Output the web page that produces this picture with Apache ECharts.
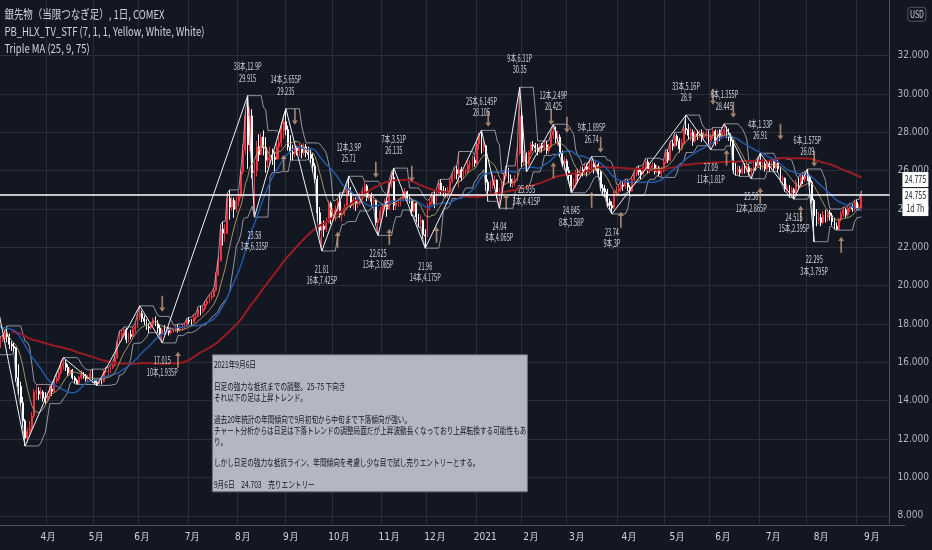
<!DOCTYPE html>
<html lang="ja">
<head>
<meta charset="UTF-8">
<title>銀先物 日足</title>
<style>
    html, body { margin: 0; padding: 0; background: #131722; overflow: hidden; width: 932px; height: 550px; }
    /* 価格軸 6〜36 を画面外まで伸ばして TradingView と同じ縮尺にする */
    #main { position: absolute; left: -3.4px; top: -20.8px; width: 935.4px; height: 576px; }
</style>
</head>
<body>
<div id="main"></div>
<script src="https://cdn.jsdelivr.net/npm/echarts/dist/echarts.min.js"></script>
<script>
// 日足データ 2020-03-02 〜 2021-09-03  [始値, 終値, 安値, 高値]
var startDate = [2020, 2, 2];
var holidays = ['2020-04-10', '2020-05-25', '2020-07-03', '2020-09-07', '2020-11-26', '2020-12-25',
    '2021-01-01', '2021-04-02', '2021-05-31', '2021-07-05'];
var padBars = 12;

var bars = [
    // 2020/3
    [16.45,16.85,16.40,17.00],[16.85,17.20,16.75,17.35],[17.20,17.25,17.05,17.40],[17.25,17.55,17.15,17.65],[17.55,17.35,17.05,17.90],
    [17.35,16.95,16.70,17.50],[16.95,16.85,16.60,17.10],[16.85,16.75,16.55,17.05],[16.75,15.20,15.00,16.80],[15.20,14.75,14.30,15.90],
    [14.75,13.90,13.70,15.00],[13.90,12.95,12.60,14.20],[12.95,12.05,11.64,13.05],[12.05,12.40,11.80,12.60],[12.40,12.55,12.10,12.95],
    [12.55,13.20,12.35,13.40],[13.20,14.45,13.10,14.60],[14.45,14.50,14.05,14.85],[14.50,14.35,14.05,14.70],[14.35,14.45,14.10,14.70],
    [14.45,14.15,13.95,14.55],[14.15,14.00,13.85,14.45],[14.00,14.25,13.90,14.40],[14.25,14.60,14.10,14.80],[14.60,14.50,14.25,14.75],
    // 4
    [14.50,15.05,14.45,15.15],[15.05,15.15,14.90,15.45],[15.15,15.45,15.00,15.60],[15.45,15.85,15.35,16.05],
    [15.85,15.95,15.60,16.25],[15.95,15.75,15.55,16.15],[15.75,15.45,15.30,15.90],[15.45,15.60,15.30,15.75],[15.60,15.20,15.10,15.65],
    [15.20,15.05,14.90,15.30],[15.05,14.90,14.85,15.15],[14.90,15.20,14.85,15.30],[15.20,15.35,15.10,15.60],[15.35,15.30,15.15,15.50],
    [15.30,15.15,15.00,15.40],[15.15,15.20,15.00,15.35],[15.20,15.45,15.10,15.60],[15.45,15.05,14.95,15.65],[15.05,14.95,14.85,15.15],
    // 5
    [14.95,14.90,14.80,15.10],[14.90,15.05,14.85,15.20],[15.05,15.00,14.85,15.15],[15.00,15.55,14.95,15.65],[15.55,15.55,15.40,15.75],
    [15.55,15.55,15.35,15.75],[15.55,15.75,15.45,15.85],[15.75,15.85,15.65,16.00],[15.85,16.25,15.80,16.40],[16.25,17.05,16.20,17.15],
    [17.05,17.35,16.95,17.65],[17.35,17.50,17.10,17.70],[17.50,17.70,17.40,17.85],[17.70,17.20,17.00,17.80],[17.20,17.45,17.05,17.55],
    [17.45,17.35,17.20,17.70],[17.35,17.75,17.30,17.85],[17.75,17.85,17.55,18.05],[17.85,18.40,17.80,18.55],
    // 6
    [18.40,18.55,18.20,18.95],[18.55,18.30,18.10,18.70],[18.30,18.15,17.95,18.45],[18.15,17.85,17.70,18.25],[17.85,17.80,17.55,18.05],
    [17.80,17.95,17.70,18.05],[17.95,18.25,17.85,18.35],[18.25,18.05,17.90,18.40],[18.05,17.80,17.55,18.20],[17.80,17.50,17.35,17.95],
    [17.50,17.70,17.015,17.80],[17.70,17.60,17.45,17.95],[17.60,17.75,17.50,17.85],[17.75,17.55,17.40,17.85],[17.55,17.65,17.45,17.85],
    [17.65,17.70,17.55,17.80],[17.70,17.80,17.60,17.95],[17.80,17.70,17.55,18.00],[17.70,17.75,17.60,17.90],[17.75,17.85,17.65,18.00],
    [17.85,17.90,17.75,18.05],[17.90,18.20,17.85,18.30],[18.20,18.15,18.00,18.35],[18.15,18.10,17.95,18.25],
    // 7
    [18.10,18.35,18.05,18.50],[18.35,18.40,18.20,18.55],[18.40,18.75,18.35,18.90],[18.75,18.65,18.45,18.95],[18.65,18.80,18.55,18.95],
    [18.80,19.05,18.70,19.20],[19.05,19.20,18.95,19.35],[19.20,19.40,19.10,19.55],[19.40,19.45,19.25,19.65],[19.45,19.75,19.40,19.90],
    [19.75,20.55,19.70,20.70],[20.55,21.30,20.50,21.55],[21.30,22.95,21.25,23.20],[22.95,22.75,22.10,23.35],[22.75,22.75,22.30,23.20],
    [22.75,24.55,22.70,24.85],[24.55,24.10,23.45,25.00],[24.10,24.45,23.90,24.70],[24.45,24.00,23.55,24.60],[24.00,24.40,23.85,24.65],
    // 8
    [24.40,24.65,24.15,24.95],[24.65,25.95,24.55,26.10],[25.95,27.05,25.80,27.40],[27.05,28.85,26.85,29.10],[28.85,27.35,26.10,29.915],
    [27.35,28.85,27.00,29.30],[28.85,25.90,25.60,29.20],[25.90,26.00,23.58,26.45],[26.00,27.25,25.70,27.55],[27.25,26.85,26.50,27.90],
    [26.85,27.75,26.80,27.95],[27.75,27.20,26.80,28.10],[27.20,26.55,25.90,27.75],[26.55,26.70,26.15,27.10],[26.70,26.80,26.35,27.25],
    [26.80,26.70,26.30,27.15],[26.70,26.60,25.95,27.00],[26.60,27.25,26.55,27.45],[27.25,27.45,26.60,27.95],[27.45,28.10,27.20,28.35],
    [28.10,28.55,27.65,28.90],[28.55,28.15,27.85,29.235],[28.15,27.25,27.05,28.35],[27.25,26.95,26.55,27.85],[26.95,26.90,26.55,27.35],
    // 9
    [26.90,27.20,26.70,27.40],[27.20,27.05,26.80,27.30],[27.05,27.20,26.75,27.40],[27.20,26.95,26.65,27.35],
    [26.95,27.25,26.80,27.45],[27.25,26.95,26.70,27.40],[26.95,26.85,26.60,27.25],[26.85,26.65,26.40,27.10],[26.65,26.25,25.90,26.90],
    [26.25,25.55,25.35,26.40],[25.55,23.80,23.35,25.75],[23.80,22.90,22.60,24.10],[22.90,23.10,21.81,23.35],[23.10,22.95,22.55,23.40],
    [22.95,23.35,22.80,23.55],[23.35,24.30,23.25,24.45],[24.30,23.55,23.20,24.40],[23.55,23.75,23.30,24.05],[23.75,23.95,23.35,24.20],
    // 10
    [23.95,24.40,23.85,24.55],[24.40,23.70,23.55,24.85],[23.70,23.75,23.35,23.95],[23.75,24.05,23.65,24.25],[24.05,25.05,23.95,25.20],
    [25.05,24.90,24.70,25.71],[24.90,24.20,24.05,25.15],[24.20,24.45,24.00,24.65],[24.45,24.30,23.90,24.60],[24.30,24.30,24.05,24.65],
    [24.30,24.60,24.20,24.85],[24.60,24.95,24.45,25.15],[24.95,25.20,24.80,25.45],[25.20,24.60,24.40,25.30],[24.60,24.70,24.45,24.95],
    [24.70,24.40,24.10,24.85],[24.40,24.45,24.15,24.70],[24.45,23.30,23.15,24.50],[23.30,23.45,22.625,23.55],[23.45,23.90,23.20,24.10],
    // 11
    [23.90,24.15,23.70,24.30],[24.15,24.40,23.95,24.55],[24.40,24.00,23.60,24.60],[24.00,25.40,23.95,25.50],[25.40,25.65,25.10,25.95],
    [25.65,24.20,23.95,26.135],[24.20,24.30,23.95,24.55],[24.30,24.30,24.10,24.55],[24.30,24.50,24.15,24.65],[24.50,24.80,24.40,24.95],
    [24.80,24.90,24.55,25.10],[24.90,24.60,24.40,24.95],[24.60,24.50,24.30,24.75],[24.50,23.90,23.65,24.55],[23.90,24.30,23.80,24.45],
    [24.30,23.60,23.30,24.35],[23.60,23.30,23.05,23.75],[23.30,23.40,23.05,23.70],[23.40,22.65,22.45,23.45],
    // 12
    [22.65,22.60,21.96,22.95],[22.60,24.20,22.55,24.30],[24.20,24.35,23.90,24.55],[24.35,24.70,24.25,24.85],[24.70,24.25,24.05,24.90],
    [24.25,24.85,24.20,25.05],[24.85,25.35,24.75,25.50],[25.35,24.95,24.75,25.55],[24.95,24.90,24.65,25.20],[24.90,24.85,24.60,25.10],
    [24.85,24.95,24.55,25.15],[24.95,25.45,24.90,25.60],[25.45,25.70,25.35,25.90],[25.70,26.05,25.55,26.20],[26.05,25.85,25.55,26.25],
    [25.85,26.05,25.10,27.00],[26.05,25.65,25.45,26.20],[25.65,25.95,25.55,26.05],[25.95,25.95,25.80,26.10],
    [25.95,26.30,25.85,26.60],[26.30,26.30,26.05,26.55],[26.30,26.55,26.15,26.80],[26.55,26.40,26.20,26.75],
    // 2021/1
    [26.40,27.40,26.30,27.65],[27.40,27.80,27.10,27.95],[27.80,27.25,26.90,28.105],[27.25,27.30,27.00,27.55],[27.30,25.40,24.95,27.35],
    [25.40,24.95,24.40,25.55],[24.95,25.25,24.85,25.50],[25.25,25.45,25.05,25.85],[25.45,25.50,25.20,25.75],[25.50,24.80,24.55,25.55],
    [24.80,25.00,24.04,25.10],[25.00,25.30,24.90,25.45],[25.30,25.70,25.20,25.85],[25.70,26.05,25.55,26.25],[26.05,25.55,25.35,26.15],
    [25.55,25.35,25.15,25.80],[25.35,25.40,25.10,25.60],[25.40,25.50,25.20,25.75],[25.50,26.90,25.45,27.30],[26.90,28.85,26.80,30.35],
    // 2
    [28.85,26.45,26.20,29.10],[26.45,26.80,26.30,27.05],[26.80,26.35,25.935,26.95],[26.35,26.95,26.25,27.05],[26.95,27.35,26.85,27.50],
    [27.35,27.30,27.05,27.55],[27.30,27.20,26.95,27.45],[27.20,27.00,26.80,27.40],[27.00,27.30,26.90,27.45],[27.30,27.20,26.95,27.45],
    [27.20,27.35,27.05,27.55],[27.35,27.05,26.85,27.55],[27.05,27.25,26.90,27.40],[27.25,27.85,27.15,28.05],[27.85,28.05,27.65,28.425],
    [28.05,27.70,27.45,28.30],[27.70,27.75,27.30,28.10],[27.75,26.90,26.70,27.90],[26.90,26.40,26.20,27.05],[26.40,26.50,26.05,26.75],
    // 3
    [26.50,26.00,25.75,26.60],[26.00,25.75,25.40,26.20],[25.75,25.20,24.845,25.85],[25.20,25.25,24.95,25.60],[25.25,25.90,25.10,26.05],
    [25.90,25.75,25.35,26.10],[25.75,26.05,25.60,26.25],[26.05,25.95,25.70,26.20],[25.95,26.20,25.80,26.40],[26.20,25.95,25.70,26.35],
    [25.95,26.25,25.85,26.45],[26.25,26.30,25.95,26.74],[26.30,26.15,25.85,26.45],[26.15,26.30,25.95,26.55],[26.30,25.95,25.75,26.40],
    [25.95,25.10,24.95,26.05],[25.10,25.05,24.70,25.30],[25.05,24.90,24.60,25.25],[24.90,24.40,24.10,25.05],[24.40,24.20,23.95,24.55],
    [24.20,24.05,23.74,24.40],[24.05,24.85,24.00,24.95],[24.85,24.95,24.65,25.20],[24.95,25.05,24.75,25.25],
    // 4
    [25.05,25.25,24.90,25.45],[25.25,25.20,24.95,25.40],[25.20,25.40,25.05,25.55],[25.40,25.15,24.95,25.50],[25.15,24.95,24.70,25.25],
    [24.95,25.55,24.90,25.70],[25.55,25.85,25.45,26.00],[25.85,26.05,25.70,26.20],[26.05,25.95,25.75,26.25],[25.95,25.85,25.55,26.10],
    [25.85,26.20,25.75,26.35],[26.20,26.45,26.05,26.65],[26.45,26.05,25.85,26.60],[26.05,26.15,25.85,26.35],[26.15,26.30,25.95,26.45],
    [26.30,25.95,25.80,26.40],[25.95,26.15,25.85,26.30],[26.15,25.85,25.70,26.25],[25.85,26.00,25.65,26.20],[26.00,26.45,25.90,26.55],
    // 5
    [26.45,26.95,26.35,27.10],[26.95,26.55,26.40,27.10],[26.55,27.40,26.50,27.55],[27.40,27.30,27.05,27.60],[27.30,27.80,27.20,28.00],
    [27.80,27.55,27.30,27.90],[27.55,27.15,26.95,27.70],[27.15,27.45,27.05,27.65],[27.45,28.20,27.35,28.35],[28.20,28.15,27.90,28.90],
    [28.15,27.85,27.60,28.45],[27.85,28.00,27.55,28.25],[28.00,27.55,27.30,28.15],[27.55,27.90,27.45,28.10],[27.90,27.85,27.60,28.10],
    [27.85,27.95,27.70,28.15],[27.95,27.75,27.50,28.15],[27.75,27.85,27.55,28.05],[27.85,27.95,27.65,28.15],[27.95,27.55,27.35,28.10],
    // 6
    [27.55,27.80,27.09,27.95],[27.80,28.05,27.65,28.25],[28.05,27.55,27.30,28.15],[27.55,27.95,27.40,28.10],
    [27.95,27.80,27.55,28.15],[27.80,28.00,27.65,28.15],[28.00,28.15,27.80,28.445],[28.15,27.95,27.70,28.30],[27.95,27.75,27.55,28.20],
    [27.75,27.55,27.30,27.95],[27.55,26.05,25.85,27.65],[26.05,25.95,25.75,26.40],[25.95,26.05,25.75,26.25],[26.05,25.90,25.70,26.25],
    [25.90,26.15,25.80,26.35],[26.15,26.05,25.85,26.40],[26.05,26.20,25.90,26.40],[26.20,25.95,25.75,26.35],[25.95,26.05,25.58,26.15],
    [26.05,26.35,25.95,26.50],[26.35,26.25,26.00,26.55],[26.25,26.55,26.15,26.70],[26.55,26.30,26.05,26.91],[26.30,26.35,26.05,26.60],
    // 7
    [26.35,26.10,25.95,26.55],[26.10,26.35,26.00,26.55],[26.35,26.20,25.95,26.50],[26.20,26.45,26.05,26.65],
    [26.45,26.15,26.00,26.60],[26.15,26.40,26.05,26.60],[26.40,26.10,25.90,26.55],[26.10,25.55,25.40,26.20],[25.55,25.60,25.20,25.75],
    [25.60,25.05,24.90,25.65],[25.05,25.15,24.85,25.30],[25.15,24.85,24.60,25.25],[24.85,25.00,24.60,25.15],[25.00,24.85,24.515,25.10],
    [24.85,25.40,24.75,25.55],[25.40,25.20,25.00,25.65],[25.20,25.65,25.10,25.85],[25.65,25.55,25.30,25.90],[25.55,25.75,25.40,25.95],
    // 8
    [25.75,25.65,25.45,26.09],[25.65,25.40,25.20,25.80],[25.40,24.45,24.30,25.50],[24.45,23.65,22.295,24.55],[23.65,23.45,23.10,24.00],
    [23.45,23.55,23.20,23.85],[23.55,23.30,23.10,23.75],[23.30,23.70,23.20,23.90],[23.70,23.55,23.30,23.95],[23.55,23.80,23.35,24.00],
    [23.80,23.65,23.40,23.95],[23.65,23.35,23.15,23.80],[23.35,23.10,22.95,23.55],[23.10,22.95,22.90,23.30],[22.95,23.45,22.90,23.55],
    [23.45,23.75,23.35,23.90],[23.75,23.95,23.60,24.10],[23.95,23.70,23.55,24.05],[23.70,24.05,23.60,24.20],[24.05,24.10,23.85,24.30],
    [24.10,24.00,23.85,24.25],[24.00,24.35,23.90,24.45],[24.35,24.05,23.95,24.50],[24.05,24.10,23.90,24.25],[24.10,24.755,24.00,24.95]
];

// 表示開始前の終値（移動平均の助走分、2019/11下旬〜2020/2）
var warmupCloses = [
    16.90,16.97,17.03,17.05,17.05, 16.93,17.10,17.15,16.90,16.55, 16.63,16.64,16.88,16.88,17.05,
    17.00,17.10,17.15,17.24,17.20, 17.35,17.70,17.95,17.98, 17.90,17.93,18.05,18.12,
    18.35,18.45,17.95,17.85,18.05, 17.85,17.75,17.95,17.85,18.05, 18.05,17.80,17.75,17.95,18.00,
    18.05,17.55,17.65,17.55,18.05, 17.70,17.75,17.60,17.85,17.85, 17.70,17.75,17.60,17.55,17.70,
    17.85,17.95,18.30,18.50,18.55, 18.55,18.80,18.45,17.85,16.45
];

// ジグザグの転換点 [バー番号, 価格]
var zigzag = [[0,18.8],[12,11.64],[29,16.25],[44,14.8],[63,18.95],[73,17.015],[111,29.915],[114,23.58],[128,29.235],
    [144,21.81],[156,25.71],[169,22.625],[176,26.135],[190,21.96],[215,28.105],[223,24.04],[232,30.35],[235,25.935],
    [247,28.425],[255,24.845],[264,26.74],[273,23.74],[306,28.9],[317,27.09],[323,28.445],[335,25.58],[339,26.91],
    [354,24.515],[360,26.09],[363,22.295]];

// 転換点のラベル [バー番号, 価格, 1行目, 2行目, 高値H/安値L]
var pivotLabels = [
    [73, 17.015, '17.015', '10本,1.935P', 'L'],
    [111, 29.915, '38本,12.9P', '29.915', 'H'],
    [114, 23.58, '23.58', '3本,6.335P', 'L'],
    [128, 29.235, '14本,5.655P', '29.235', 'H'],
    [144, 21.81, '21.81', '16本,7.425P', 'L'],
    [156, 25.71, '12本,3.9P', '25.71', 'H'],
    [169, 22.625, '22.625', '13本,3.085P', 'L'],
    [176, 26.135, '7本,3.51P', '26.135', 'H'],
    [190, 21.96, '21.96', '14本,4.175P', 'L'],
    [215, 28.105, '25本,6.145P', '28.105', 'H'],
    [223, 24.04, '24.04', '8本,4.065P', 'L'],
    [232, 30.35, '9本,6.31P', '30.35', 'H'],
    [235, 25.935, '25.935', '3本,4.415P', 'L'],
    [247, 28.425, '12本,2.49P', '28.425', 'H'],
    [255, 24.845, '24.845', '8本,3.58P', 'L'],
    [264, 26.74, '9本,1.895P', '26.74', 'H'],
    [273, 23.74, '23.74', '9本,3P', 'L'],
    [306, 28.9, '33本,5.16P', '28.9', 'H'],
    [317, 27.09, '27.09', '11本,1.81P', 'L'],
    [323, 28.445, '6本,1.355P', '28.445', 'H'],
    [335, 25.58, '25.58', '12本,2.865P', 'L'],
    [339, 26.91, '4本,1.33P', '26.91', 'H'],
    [354, 24.515, '24.515', '15本,2.395P', 'L'],
    [360, 26.09, '6本,1.575P', '26.09', 'H'],
    [363, 22.295, '22.295', '3本,3.795P', 'L']
];

// シグナル矢印 [バー番号, 価格]
var downArrows = [[73,19.06],[132,28.81],[168,26.05],[184,25.84],[218,28.71],[246,28.8],[253,28.4],[268,27.35],
    [318,29.86],[327,29.18],[348,28.03],[363,26.62]];
var upArrows = [[80,16.14],[127,26.41],[151,22.4],[174,22.55],[195,22.66],[226,24.38],[247,26.02],[264,24.48],
    [277,23.44],[324,26.67],[339,24.7],[357,23.75],[375,22.14]];

var lastPrice = 24.755;
var otherPrice = 24.775;
var countdown = '1d 7h';

var noteLines = [
    '2021年9月6日',
    '',
    '日足の強力な抵抗までの調整。25-75 下向き',
    'それ以下の足は上昇トレンド。',
    '',
    '過去20年統計の年間傾向で9月初旬から中旬まで下落傾向が強い。',
    'チャート分析からは日足は下落トレンドの調整局面だが上昇波動長くなっており上昇転換する可能性もあ',
    'り。',
    '',
    'しかし日足の強力な抵抗ライン、年間傾向を考慮し少な目で試し売りエントリーとする。',
    '',
    '9月6日　24.703　売りエントリー'
];

var headerLines = ['銀先物（当限つなぎ足）, 1日, COMEX', 'PB_HLX_TV_STF (7, 1, 1, Yellow, White, White)', 'Triple MA (25, 9, 75)'];

// ---- 日付（営業日）----
function fmt(d) {
    var m = d.getMonth() + 1, day = d.getDate();
    return d.getFullYear() + '-' + (m < 10 ? '0' : '') + m + '-' + (day < 10 ? '0' : '') + day;
}
var dates = [];
var cur = new Date(startDate[0], startDate[1], startDate[2]);
while (dates.length < bars.length + padBars) {
    var s = fmt(cur), wd = cur.getDay();
    if (wd !== 0 && wd !== 6 && holidays.indexOf(s) < 0) dates.push(s);
    cur.setDate(cur.getDate() + 1);
}
function isMonthStart(i) {
    return i > 0 && dates[i].slice(0, 7) !== dates[i - 1].slice(0, 7);
}
function monthLabel(v) {
    var m = parseInt(v.slice(5, 7), 10);
    return m === 1 ? v.slice(0, 4) : m + '月';
}

// ---- 指標 ----
var closes = warmupCloses.concat(bars.map(function (b) { return b[1]; }));
function ma(n) {
    return bars.map(function (b, i) {
        var end = warmupCloses.length + i, sum = 0;
        for (var k = end - n + 1; k <= end; k++) sum += closes[k];
        return +(sum / n).toFixed(3);
    });
}
function channel(n, upper) {
    return bars.map(function (b, i) {
        var v = upper ? -Infinity : Infinity;
        for (var k = Math.max(0, i - n + 1); k <= i; k++) {
            v = upper ? Math.max(v, bars[k][3]) : Math.min(v, bars[k][2]);
        }
        return v;
    });
}

var txtFont = "'Noto Sans CJK JP', 'Noto Sans', sans-serif";
var narrowFont = "'Liberation Sans Narrow', 'DejaVu Sans Condensed', 'Roboto', sans-serif";
var gridColor = '#2a2e39';
// コンテナのずれ（ページ座標 = コンテナ座標 - offset）
var offX = 3.4, offY = 20.8;

// y軸の目盛り 6..36 のうち 34 は線を描かない
var splitColors = [];
for (var t = 6; t <= 36; t += 2) splitColors.push(t === 34 ? 'rgba(0,0,0,0)' : gridColor);

var chart = echarts.init(document.getElementById('main'));

var arrowPath = 'path://M5,0 L10,8 L6.4,8 L6.4,30 L3.6,30 L3.6,8 L0,8 Z';

chart.setOption({
    backgroundColor: '#131722',
    animation: false,
    grid: [
        {left: 0, right: 27, top: 0, bottom: 0.9},
        {left: 0, right: 27, top: 524 + offY, height: 1}
    ],
    xAxis: [
        {
            type: 'category', gridIndex: 0, data: dates, boundaryGap: true,
            axisLine: {show: false}, axisTick: {show: false}, axisLabel: {show: false},
            splitLine: {show: true, interval: function (i) { return isMonthStart(i); }, lineStyle: {color: gridColor}}
        },
        {
            type: 'category', gridIndex: 1, data: dates, boundaryGap: true, z: 20,
            axisLine: {show: true, lineStyle: {color: '#4c505b'}},
            axisTick: {show: false},
            axisLabel: {
                interval: function (i) { return isMonthStart(i); },
                formatter: monthLabel, color: '#d1d4dc', fontSize: 10, fontFamily: narrowFont, margin: 8
            },
            splitLine: {show: false}
        }
    ],
    yAxis: [
        {
            type: 'value', gridIndex: 0, position: 'right', min: 6, max: 36, interval: 2,
            axisLine: {show: true, lineStyle: {color: '#4c505b'}},
            axisTick: {show: false},
            axisLabel: {
                color: '#b2b5be', fontSize: 10, fontFamily: narrowFont, margin: 8,
                formatter: function (v) { return (v > 33 || v < 7) ? '' : v.toFixed(3); }
            },
            splitLine: {show: true, lineStyle: {color: splitColors}}
        },
        {type: 'value', gridIndex: 1, show: false}
    ],
    series: [
        {
            name: 'ohlc', type: 'candlestick', data: bars, barWidth: '62%', z: 2,
            itemStyle: {color: '#f4303b', color0: '#ffffff', borderColor: '#f4303b', borderColor0: '#ffffff', borderWidth: 1},
            markLine: {
                symbol: 'none', silent: true, animation: false,
                label: {show: false},
                lineStyle: {color: '#ffffff', width: 1.5, type: 'solid'},
                data: [{yAxis: lastPrice}]
            }
        },
        {name: 'HL上', type: 'line', data: channel(7, true), symbol: 'none', z: 3,
            lineStyle: {color: 'rgba(200,203,212,0.7)', width: 1}},
        {name: 'HL下', type: 'line', data: channel(7, false), symbol: 'none', z: 3,
            lineStyle: {color: 'rgba(200,203,212,0.7)', width: 1}},
        {name: 'MA75', type: 'line', data: ma(75), symbol: 'none', z: 3,
            lineStyle: {color: '#9b1b21', width: 2}},
        {name: 'MA25', type: 'line', data: ma(25), symbol: 'none', z: 3,
            lineStyle: {color: '#2457a8', width: 1.5}},
        {name: 'MA9', type: 'line', data: ma(9), symbol: 'none', z: 3,
            lineStyle: {color: '#a39362', width: 1}},
        {name: 'zigzag', type: 'line', data: zigzag, symbol: 'none', z: 4,
            lineStyle: {color: '#eef0f5', width: 1}},
        {name: '売り', type: 'scatter', data: downArrows, symbol: arrowPath, symbolSize: [6, 16], symbolRotate: 180, z: 5,
            itemStyle: {color: '#c99b7b'}},
        {name: '買い', type: 'scatter', data: upArrows, symbol: arrowPath, symbolSize: [6, 16], z: 5,
            itemStyle: {color: '#c99b7b'}},
        {
            name: 'labels', type: 'custom', z: 6, silent: true,
            data: pivotLabels.map(function (L) { return [L[0], L[1]]; }),
            renderItem: function (params, api) {
                var L = pivotLabels[params.dataIndex];
                var pt = api.coord([api.value(0), api.value(1)]);
                var high = L[4] === 'H';
                return {
                    type: 'text', x: pt[0], y: pt[1] + (high ? -12 : 12), scaleX: 0.56,
                    style: {
                        text: L[2] + '\n' + L[3], fill: '#d1d4dc', fontSize: 10, fontFamily: txtFont,
                        align: 'center', verticalAlign: high ? 'bottom' : 'top', lineHeight: 11.5
                    }
                };
            }
        }
    ]
});

// ---- 文字・注記（ページ座標で配置し、グループでコンテナのずれを戻す）----
var yLast = chart.convertToPixel({yAxisIndex: 0}, lastPrice) - offY;
var g = [];
headerLines.forEach(function (t, i) {
    g.push({type: 'text', x: 4, y: 15 + i * 17, scaleX: 0.79, z: 30,
        style: {text: t, fill: '#d1d4dc', fontSize: 12, fontFamily: txtFont, verticalAlign: 'middle'}});
});
g.push({type: 'rect', z: 10, shape: {x: -offX, y: 524.5, width: 905 + offX, height: 40}, style: {fill: '#131722'}});
g.push({type: 'rect', z: 30, shape: {x: 212, y: 355, width: 315, height: 137},
    style: {fill: '#b4b7c1', stroke: '#6b6e78', lineWidth: 1}});
g.push({type: 'text', z: 31, x: 213.5, y: 359.5, scaleX: 0.7,
    style: {text: noteLines.join('\n'), fill: '#131722', fontSize: 9.5, lineHeight: 10.9, fontFamily: txtFont, verticalAlign: 'top'}});
g.push({type: 'rect', z: 30, shape: {x: 907.5, y: 7.5, width: 18, height: 14, r: 3},
    style: {fill: 'none', stroke: '#50535e', lineWidth: 1}});
g.push({type: 'text', z: 31, x: 916.5, y: 14.5, scaleX: 0.7,
    style: {text: 'USD', fill: '#d1d4dc', fontSize: 10, fontFamily: txtFont, align: 'center', verticalAlign: 'middle'}});
// 価格タグ
g.push({type: 'rect', z: 30, shape: {x: 902, y: yLast - 22.5, width: 26, height: 15}, style: {fill: '#ffffff'}});
g.push({type: 'text', z: 31, x: 915, y: yLast - 15, scaleX: 0.7,
    style: {text: otherPrice.toFixed(3), fill: '#131722', fontSize: 10, fontFamily: txtFont, align: 'center', verticalAlign: 'middle'}});
g.push({type: 'rect', z: 30, shape: {x: 902, y: yLast - 6.5, width: 26, height: 28}, style: {fill: '#ffffff'}});
g.push({type: 'text', z: 31, x: 915, y: yLast + 1, scaleX: 0.7,
    style: {text: lastPrice.toFixed(3), fill: '#131722', fontSize: 10, fontFamily: txtFont, align: 'center', verticalAlign: 'middle'}});
g.push({type: 'text', z: 31, x: 915, y: yLast + 14, scaleX: 0.7,
    style: {text: countdown, fill: '#131722', fontSize: 10, fontFamily: txtFont, align: 'center', verticalAlign: 'middle'}});

chart.setOption({graphic: [{type: 'group', x: offX, y: offY, children: g}]});
</script>
</body>
</html>
